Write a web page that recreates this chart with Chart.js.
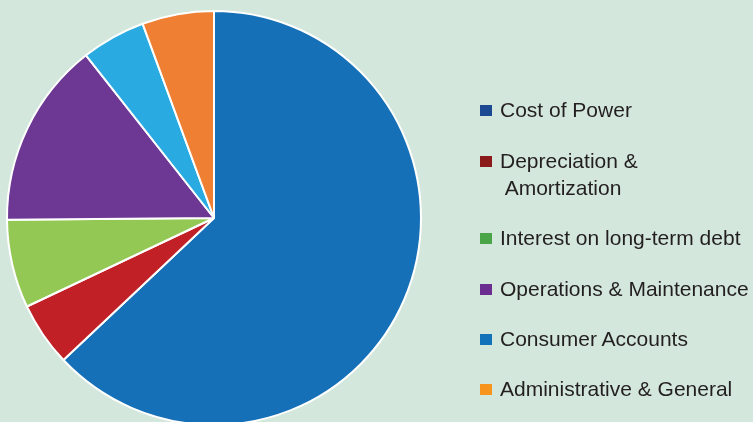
<!DOCTYPE html>
<html>
<head>
<meta charset="utf-8">
<script src="https://cdn.jsdelivr.net/npm/chart.js@4/dist/chart.umd.min.js"></script>
<style>
    body { margin: 0; background: #d3e7dc; font-family: "Liberation Sans", Arial, sans-serif; }
    #wrap { position: absolute; left: 0; top: 0; width: 753px; height: 422px; overflow: hidden; }
    #legend { position: absolute; left: 0; top: 0; }
    .item { position: absolute; left: 480px; font-size: 21px; line-height: 27px; color: #231f20; white-space: nowrap; }
    .box { position: absolute; left: 0; width: 12px; height: 11px; }
    .txt { position: absolute; left: 20px; top: 0; }
</style>
</head>
<body>
<div id="wrap">
    <canvas id="costChart"></canvas>
    <div id="legend"></div>
</div>
<script>
// cost breakdown (percent of total)
const categories = ['Cost of Power', 'Depreciation &\n Amortization', 'Interest on long-term debt',
    'Operations & Maintenance', 'Consumer Accounts', 'Administrative & General'];
const shares = [62.9, 5.0, 6.9, 14.5, 5.0, 5.6];
const sliceColors = ['#1570b7', '#c02026', '#93c854', '#6c3893', '#29abe2', '#ee7f33'];
const legendColors = ['#1b4a93', '#8b1a1a', '#4aa548', '#6b2d8f', '#1272b9', '#f7941d'];
const legendTops = [96, 147, 224, 275, 325, 375];

const ctx = document.getElementById('costChart').getContext('2d');
new Chart(ctx, {
    type: 'pie',
    data: {
        labels: categories,
        datasets: [{
            data: shares,
            backgroundColor: sliceColors,
            borderColor: '#ffffff',
            borderWidth: 2
        }]
    },
    options: {
        responsive: true,
        maintainAspectRatio: false,
        animation: false,
        radius: 207,
        layout: { padding: { left: 5, right: 330, top: 14, bottom: 0 } },
        plugins: {
            legend: { display: false },
            tooltip: { enabled: false }
        }
    }
});

// Legend on the right
const legendDiv = document.getElementById('legend');
categories.forEach((name, i) => {
    const item = document.createElement('div');
    item.classList.add('item');
    item.style.top = legendTops[i] + 'px';
    const lines = name.split('\n');
    item.innerHTML = `
        <div class="box" style="top:${9}px;background:${legendColors[i]}"></div>
        <div class="txt" style="white-space:pre">${lines.join('<br>')}</div>
    `;
    legendDiv.appendChild(item);
});
</script>
</body>
</html>
